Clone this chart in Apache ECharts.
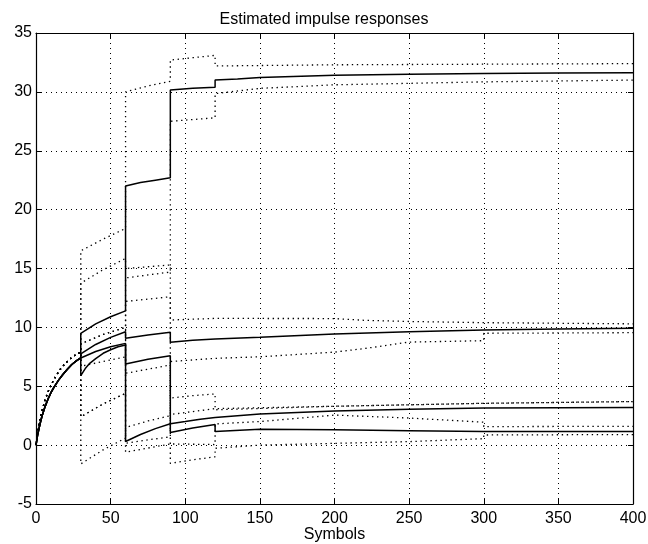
<!DOCTYPE html>
<html>
<head>
<meta charset="utf-8">
<title>Estimated impulse responses</title>
<script src="https://cdn.jsdelivr.net/npm/echarts@6/dist/echarts.min.js"></script>
<style>
  html, body { margin: 0; padding: 0; background: #fff; }
  #myChart { width: 648px; height: 544px; }
</style>
</head>
<body>
<div id="myChart"></div>
<script>
// axis ticks
var xTicks = [0, 50, 100, 150, 200, 250, 300, 350, 400];
var yTicks = [-5, 0, 5, 10, 15, 20, 25, 30, 35];

// common start (symbols 0-30)
var rampMean  = [[0,0],[1,0.8],[2,1.4],[3,1.95],[4,2.45],[6,3.25],[8,3.9],[10,4.45],[12,4.9],[15,5.5],[18,6.0],[21,6.45],[24,6.85],[27,7.15],[30,7.4]];
var rampBound = [[0,0],[1,1.0],[2,1.8],[4,2.9],[6,3.8],[8,4.5],[10,5.1],[13,5.8],[16,6.4],[20,7.0],[25,7.55],[30,7.9]];

// estimated taps (solid)
var tapA = [[30,9.5],[40,10.3],[50,10.9],[60,11.4],[60,22.0],[70,22.3],[80,22.5],[90,22.7],[90,30.15],[105,30.3],[120,30.4],[120,31.0],[135,31.1],[150,31.22],[200,31.42],[250,31.5],[300,31.57],[350,31.6],[400,31.63]];
var tapB = [[30,7.75],[40,8.55],[50,9.15],[60,9.63],[60,9.07],[75,9.35],[90,9.58],[90,8.73],[105,8.9],[120,9.02],[150,9.16],[200,9.44],[250,9.63],[300,9.78],[350,9.86],[400,9.92]];
var tapC = [[30,7.4],[40,7.95],[50,8.35],[60,8.64],[60,6.89],[75,7.3],[90,7.6],[90,1.07],[105,1.45],[120,1.75],[120,1.15],[150,1.34],[200,1.3],[250,1.23],[300,1.15],[400,1.15]];
var tapD = [[30,5.9],[33,6.5],[36,6.95],[40,7.35],[45,7.8],[50,8.1],[55,8.35],[60,8.5],[60,0.31],[70,0.9],[80,1.4],[90,1.81],[100,2.0],[110,2.2],[120,2.35],[150,2.65],[200,2.9],[250,3.05],[300,3.15],[350,3.18],[400,3.2]];

// confidence bounds (dotted)
var upA = [[30,16.5],[45,17.5],[60,18.4],[60,30.0],[75,30.5],[90,30.9],[90,32.7],[105,32.9],[120,33.1],[120,32.2],[200,32.3],[300,32.35],[400,32.4]];
var loA = [[30,2.4],[45,3.5],[60,4.4],[60,14.2],[75,14.45],[90,14.7],[90,27.5],[105,27.65],[120,27.8],[120,29.85],[150,30.3],[200,30.6],[300,30.85],[400,31.0]];
var upB = [[30,13.75],[45,14.9],[60,15.85],[60,15.0],[75,15.15],[90,15.3],[90,10.62],[105,10.7],[120,10.76],[200,10.75],[220,10.6],[250,10.5],[300,10.4],[300,10.25],[400,10.3]];
var loB = [[30,6.7],[45,7.1],[60,7.5],[60,0.15],[75,0.45],[90,0.7],[90,7.1],[120,7.37],[150,7.5],[200,7.9],[220,8.2],[250,8.75],[300,8.87],[300,9.5],[400,9.55]];
var upC = [[30,8.6],[45,9.4],[60,10.0],[60,12.2],[75,12.4],[90,12.6],[90,2.6],[105,2.85],[120,3.1],[120,3.0],[200,3.3],[300,3.55],[400,3.7]];
var loC = [[30,-1.6],[45,-0.4],[60,0.6],[60,1.5],[75,2.05],[90,2.5],[90,-1.55],[105,-1.25],[120,-0.99],[120,-0.27],[150,0.0],[200,0.15],[250,0.3],[300,0.55],[300,0.86],[400,0.9]];
var upD = [[30,8.6],[45,9.4],[60,10.0],[60,6.1],[75,6.45],[90,6.8],[90,4.0],[105,4.2],[120,4.35],[120,3.0],[200,3.3],[300,3.55],[400,3.7]];
var loD = [[30,2.4],[45,3.5],[60,4.4],[60,-0.6],[75,-0.25],[90,0.1],[90,0.15],[120,0.05],[120,1.8],[150,2.0],[200,2.55],[250,2.3],[300,1.95],[300,1.57],[400,1.6]];

var FONT = 'Liberation Sans, Arial, Helvetica, sans-serif';

var myChart = echarts.init(document.getElementById('myChart'));

function solid(data) {
  return {
    type: 'line', data: data, showSymbol: false, symbol: 'none',
    lineStyle: { color: '#000', width: 1.5, type: 'solid' },
    silent: true, z: 5
  };
}
function dotted(data) {
  return {
    type: 'line', data: data, showSymbol: false, symbol: 'none',
    lineStyle: { color: '#000', width: 1.3, type: [1.4, 3.6] },
    silent: true, z: 4
  };
}

var tickStyle = { inside: true, length: 5, lineStyle: { color: '#000', width: 1 } };
var frameLine = { show: true, onZero: false, lineStyle: { color: '#000', width: 1.2 } };
var gridDots  = { show: true, lineStyle: { color: '#000', width: 1, type: [1, 4] } };

var option = {
  animation: false,
  backgroundColor: '#fff',
  title: {
    text: 'Estimated impulse responses',
    left: 'center',
    top: 7,
    textStyle: { fontFamily: FONT, fontSize: 16, fontWeight: 'normal', color: '#000' }
  },
  // fixed plot box, labels sit outside it
  grid: { left: 36, right: 15, top: 33, bottom: 40, containLabel: false, outerBoundsMode: 'none' },
  xAxis: [
    {
      type: 'value', min: xTicks[0], max: xTicks[xTicks.length - 1], interval: 50,
      position: 'bottom',
      axisLine: frameLine, axisTick: tickStyle, splitLine: gridDots,
      axisLabel: { color: '#000', fontSize: 16, fontFamily: FONT, margin: 7 },
      name: 'Symbols', nameLocation: 'middle', nameGap: 23, nameMoveOverlap: false,
      nameTextStyle: { color: '#000', fontSize: 16, fontFamily: FONT, verticalAlign: 'top' }
    },
    {
      type: 'value', min: xTicks[0], max: xTicks[xTicks.length - 1], interval: 50,
      position: 'top',
      axisLine: frameLine, axisTick: tickStyle,
      axisLabel: { show: false }, splitLine: { show: false }
    }
  ],
  yAxis: [
    {
      type: 'value', min: yTicks[0], max: yTicks[yTicks.length - 1], interval: 5,
      position: 'left',
      axisLine: frameLine, axisTick: tickStyle, splitLine: gridDots,
      axisLabel: { color: '#000', fontSize: 16, fontFamily: FONT, margin: 4 }
    },
    {
      type: 'value', min: yTicks[0], max: yTicks[yTicks.length - 1], interval: 5,
      position: 'right',
      axisLine: frameLine, axisTick: tickStyle,
      axisLabel: { show: false }, splitLine: { show: false }
    }
  ],
  series: [
    dotted(rampBound.concat(upA)),
    dotted(rampBound.concat(loA)),
    dotted(rampBound.concat(upB)),
    dotted(rampBound.concat(loB)),
    dotted(rampBound.concat(upC)),
    dotted(rampBound.concat(loC)),
    dotted(rampBound.concat(upD)),
    dotted(rampBound.concat(loD)),
    solid(rampMean.concat(tapA)),
    solid(rampMean.concat(tapB)),
    solid(rampMean.concat(tapC)),
    solid(rampMean.concat(tapD))
  ]
};

window.onresize = myChart.resize;
myChart.setOption(option);
</script>
</body>
</html>
